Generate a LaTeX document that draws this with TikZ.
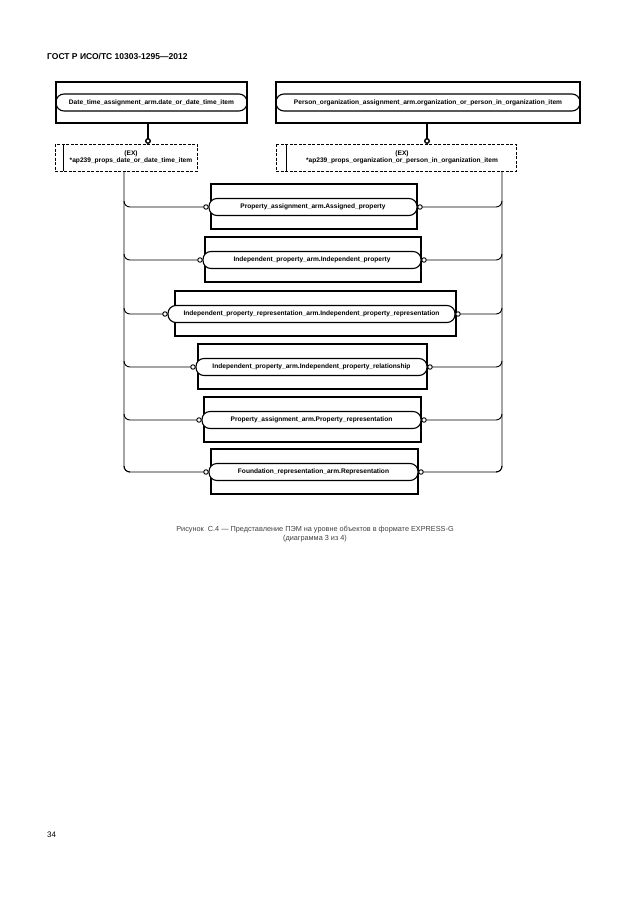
\documentclass[tikz,border=0pt]{standalone}
\usepackage{fontspec}
\setmainfont{Liberation Sans}
\begin{document}
\begin{tikzpicture}[x=1pt,y=-1pt,
  ent/.style={draw,line width=1.3pt},
  stad/.style={draw,line width=1.1pt,rounded corners=8pt},
  lbl/.style={font=\bfseries\fontsize{6.6}{7}\selectfont,inner sep=0pt},
  cn/.style={line width=0.9pt},
  lol/.style={circle,draw,fill=white,line width=0.9pt,minimum size=4.5pt,inner sep=0pt}]
\useasboundingbox[fill=white] (0,0) rectangle (630,913);
\node[anchor=west,font=\bfseries\fontsize{8.5}{10}\selectfont,inner sep=0pt] (hdr) at (47,57) {ГОСТ Р ИСО/ТС 10303-1295—2012};
% top entities
\draw[ent] (56,82) rectangle (247,123);
\draw[stad] (56,94) rectangle (247,111);
\node[lbl] (t1) at (151.5,102.5) {Date\_time\_assignment\_arm.date\_or\_date\_time\_item};
\draw[ent] (276,82) rectangle (580,123);
\draw[stad] (276,94) rectangle (580,111);
\node[lbl] (t2) at (428,102.5) {Person\_organization\_assignment\_arm.organization\_or\_person\_in\_organization\_item};
% select boxes
\draw[dash pattern=on 3pt off 1.5pt,line width=0.9pt] (55,144) rectangle (197,171);
\draw[line width=0.9pt] (63,144) -- (63,171);
\node[lbl,align=center] (s1) at (131,157.5) {(EX)\\*ap239\_props\_date\_or\_date\_time\_item};
\draw[dash pattern=on 3pt off 1.5pt,line width=0.9pt] (276,144) rectangle (516,171);
\draw[line width=0.9pt] (286,144) -- (286,171);
\node[lbl,align=center] (s2) at (402,157.5) {(EX)\\*ap239\_props\_organization\_or\_person\_in\_organization\_item};
\draw[line width=1.6pt] (148,123) -- (148,140);
\node[lol,line width=1.4pt] (c1) at (148,141) {};
\draw[line width=1.6pt] (427,123) -- (427,140);
\node[lol,line width=1.4pt] (c2) at (427,141) {};
% buses
\draw[cn] (124,171) -- (124,466) to[out=-90,in=180] (130,472);
\draw[cn] (502,171) -- (502,466) to[out=-90,in=0] (496,472);
\foreach \y/\bl/\br/\sl/\sr/\t in {
 207/211/417/209/417/{Property\_assignment\_arm.Assigned\_property},
 260/205/421/203/421/{Independent\_property\_arm.Independent\_property},
 314/175/456/168/455/{Independent\_property\_representation\_arm.Independent\_property\_representation},
 367/198/427/196/427/{Independent\_property\_arm.Independent\_property\_relationship},
 420/204/421/202/421/{Property\_assignment\_arm.Property\_representation},
 472/211/418/209/418/{Foundation\_representation\_arm.Representation}} {
  \draw[ent] (\bl,\y-23) rectangle (\br,\y+22);
  \draw[stad,fill=white] (\sl,\y-8.5) rectangle (\sr,\y+8.5);
  \node[lbl] at ({(\sl+\sr)/2},\y) {\t};
  \draw[cn] (124,\y-6) to[out=-90,in=180] (130,\y) -- (\sl-5,\y);
  \draw[cn] (502,\y-6) to[out=-90,in=0] (496,\y) -- (\sr+5,\y);
  \node[lol] at (\sl-3,\y) {};
  \node[lol] at (\sr+3,\y) {};
}
\node[font=\fontsize{7.3}{9}\selectfont,align=center,text=black!75] (cap) at (315,534) {Рисунок\ \ С.4 — Представление ПЭМ на уровне объектов в формате EXPRESS-G\\(диаграмма 3 из 4)};
\node[anchor=west,font=\fontsize{8}{10}\selectfont,inner sep=0pt] (pg) at (47,835) {34};
\end{tikzpicture}
\end{document}
